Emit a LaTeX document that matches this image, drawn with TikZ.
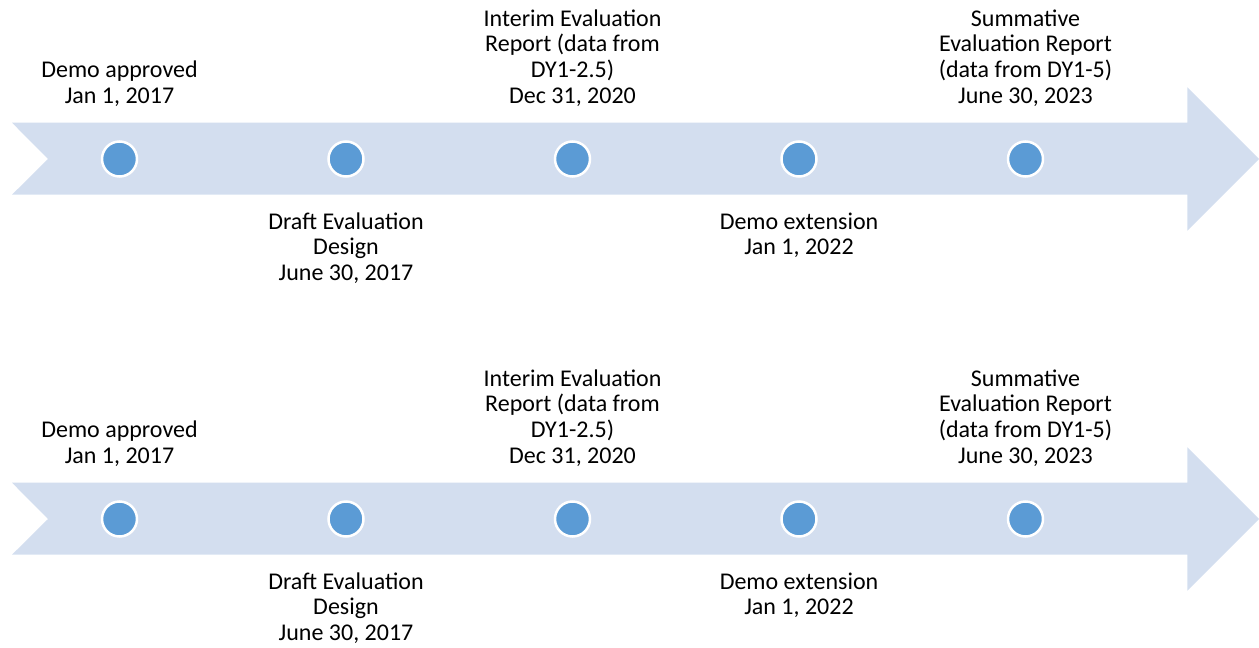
\documentclass[tikz,border=0pt]{standalone}
\usepackage{fontspec}
\setmainfont{Carlito}
\usepackage{xcolor}
\definecolor{bandblue}{HTML}{D3DEEF}
\definecolor{dotblue}{HTML}{5B9BD5}

\begin{document}
\begin{tikzpicture}[x=1pt,y=-1pt,
  dot/.style={circle,fill=dotblue,draw=white,line width=2.5pt,minimum size=35pt,inner sep=0pt},
  milestone/.style={align=center,anchor=base,inner sep=0pt,font=\fontsize{24}{25.6}\selectfont}]
\useasboundingbox (0,0) rectangle (1259,648);

\foreach \r/\y in {a/0,b/360}{
\begin{scope}[yshift=-\y pt]
% Timeline band
\fill[bandblue] (12,122.7) -- (1187.3,122.7) -- (1187.3,87.3) -- (1259,159)
  -- (1187.3,230.7) -- (1187.3,194.7) -- (12,194.7) -- (48,159) -- cycle;

% Milestone dots
\foreach \i in {1,...,5}
  \node[dot] (\r\i) at (226.5*\i-107,159) {};

% Labels above the band
\node[milestone] (\r-up1) at ([yshift=56pt]\r1) {Demo approved\\Jan 1, 2017};
\node[milestone] (\r-up3) at ([yshift=56pt]\r3) {Interim Evaluation\\Report (data from\\DY1-2.5)\\Dec 31, 2020};
\node[milestone] (\r-up5) at ([yshift=56pt]\r5) {Summative\\Evaluation Report\\(data from DY1-5)\\June 30, 2023};

% Labels below the band
\node[milestone] (\r-down2) at ([yshift=-121.5pt]\r2) {Draft Evaluation\\Design\\June 30, 2017};
\node[milestone] (\r-down4) at ([yshift=-95.9pt]\r4) {Demo extension\\Jan 1, 2022};
\end{scope}
}
\end{tikzpicture}
\end{document}
